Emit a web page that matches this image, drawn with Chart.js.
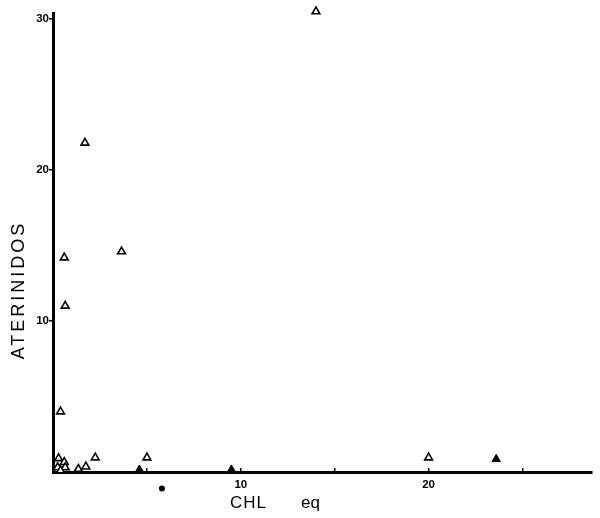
<!DOCTYPE html>
<html>
<head>
<meta charset="utf-8">
<script src="https://cdn.jsdelivr.net/npm/chart.js@4/dist/chart.umd.min.js"></script>
<style>
  html, body { margin: 0; padding: 0; background: #fff; }
  #wrap { width: 600px; height: 518px; position: relative; }
</style>
</head>
<body>
<div id="wrap"><canvas id="chart"></canvas></div>
<script>
// open triangles
const openX = [14.0, 1.7, 3.65, 0.6, 0.65, 0.4, 2.25, 5.0, 20.0, 0.3, 0.6, 0.25, 0.65, 0.4, 1.35, 1.75];
const openY = [30.5, 21.8, 14.6, 14.2, 11.0, 4.0, 0.95, 0.95, 0.95, 0.9, 0.65, 0.3, 0.3, 0.1, 0.2, 0.35];
// filled triangles
const filledX = [4.6, 9.5, 23.6];
const filledY = [0.15, 0.15, 0.85];
// filled circle (sits below the axis in the original)
const dotX = [5.8];
const dotY = [-1.1];

const xTicks = [5, 10, 15, 20, 25];
const xTickLabels = ['', '10', '', '20', ''];
const yTicks = [10, 20, 30];
const yTickLabels = ['10', '20', '30'];

const yTitle = 'ATERINIDOS';
const xTitleA = 'CHL';
const xTitleB = 'eq';

const toPoints = (xs, ys) => xs.map((x, i) => ({ x: x, y: ys[i] }));

// Chart.js skips points far outside the chart area, so the stray dot below
// the axis is drawn here, still placed through the chart's scales
const outsidePointsPlugin = {
    id: 'outsidePoints',
    afterDatasetsDraw(chart) {
        const ctx = chart.ctx;
        const xs = chart.scales.x;
        const ys = chart.scales.y;
        ctx.save();
        ctx.fillStyle = '#000';
        dotX.forEach((x, i) => {
            ctx.beginPath();
            ctx.arc(xs.getPixelForValue(x), ys.getPixelForValue(dotY[i]), 3, 0, Math.PI * 2);
            ctx.fill();
        });
        ctx.restore();
    }
};

const titlesPlugin = {
    id: 'titles',
    afterDraw(chart) {
        const ctx = chart.ctx;
        ctx.save();
        ctx.fillStyle = '#000';
        ctx.font = '18px "Liberation Sans", Arial, sans-serif';
        ctx.letterSpacing = '3px';
        ctx.textAlign = 'center';
        ctx.textBaseline = 'middle';
        ctx.translate(19, 290);
        ctx.rotate(-Math.PI / 2);
        ctx.fillText(yTitle, 0, 0);
        ctx.restore();

        ctx.save();
        ctx.fillStyle = '#000';
        ctx.font = '17px "Liberation Sans", Arial, sans-serif';
        ctx.letterSpacing = '1px';
        ctx.textBaseline = 'alphabetic';
        ctx.fillText(xTitleA, 230, 508);
        ctx.letterSpacing = '0px';
        ctx.fillText(xTitleB, 301, 508);
        ctx.restore();
    }
};

const tickFont = { family: '"Liberation Sans", Arial, sans-serif', size: 11.5, weight: 'bold' };

new Chart(document.getElementById('chart'), {
    type: 'scatter',
    data: {
        datasets: [
            {
                label: 'open',
                data: toPoints(openX, openY),
                pointStyle: 'triangle',
                pointRadius: 4.5,
                backgroundColor: '#fff',
                borderColor: '#000',
                borderWidth: 1.6,
                clip: false
            },
            {
                label: 'filled',
                data: toPoints(filledX, filledY),
                pointStyle: 'triangle',
                pointRadius: 4.8,
                backgroundColor: '#000',
                borderColor: '#000',
                borderWidth: 1,
                clip: false
            }
        ]
    },
    options: {
        responsive: true,
        maintainAspectRatio: false,
        animation: false,
        layout: { padding: { left: 0, right: 8, top: 13, bottom: 0 } },
        plugins: {
            legend: { display: false },
            tooltip: { enabled: false }
        },
        scales: {
            x: {
                type: 'linear',
                min: 0,
                max: 28.7,
                afterFit: (scale) => { scale.height = 46; },
                afterBuildTicks: (scale) => { scale.ticks = xTicks.map(v => ({ value: v })); },
                border: { display: true, color: '#000', width: 3 },
                // negative length turns the tick marks up into the plot
                grid: { display: true, drawOnChartArea: false, color: '#000', lineWidth: 1.5, tickLength: -4 },
                ticks: {
                    color: '#000',
                    font: tickFont,
                    padding: 10,
                    maxRotation: 0,
                    callback: (value) => xTickLabels[xTicks.indexOf(value)] || ''
                }
            },
            y: {
                type: 'linear',
                min: 0,
                max: 30.4,
                afterFit: (scale) => { scale.width = 53; },
                afterBuildTicks: (scale) => { scale.ticks = yTicks.map(v => ({ value: v })); },
                border: { display: true, color: '#000', width: 3 },
                grid: { display: true, drawOnChartArea: false, color: '#000', lineWidth: 1.5, tickLength: 4 },
                ticks: {
                    color: '#000',
                    font: tickFont,
                    padding: 0,
                    callback: (value) => yTickLabels[yTicks.indexOf(value)] || ''
                }
            }
        }
    },
    plugins: [outsidePointsPlugin, titlesPlugin]
});
</script>
</body>
</html>
